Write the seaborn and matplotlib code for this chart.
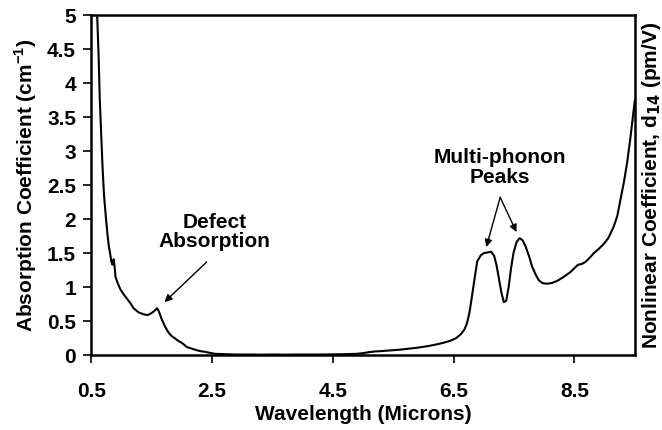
import matplotlib
matplotlib.use("Agg")
import matplotlib.pyplot as plt
import seaborn as sns
import pandas as pd

wavelength = [0.596, 0.62, 0.64, 0.665, 0.685, 0.71, 0.74, 0.77, 0.79, 0.81, 0.83, 0.85, 0.87, 0.885,
              0.90, 0.94, 0.98, 1.03, 1.09, 1.15, 1.20, 1.28, 1.37, 1.43, 1.48, 1.53, 1.59, 1.62,
              1.66, 1.72, 1.78, 1.83, 1.88, 1.94, 2.00, 2.08, 2.15, 2.22, 2.30, 2.38, 2.46, 2.55,
              2.7, 2.9, 3.1, 3.3, 3.5, 3.7, 3.9, 4.1, 4.3, 4.5, 4.7, 4.9, 5.0, 5.1, 5.2, 5.3,
              5.45, 5.6, 5.75, 5.9, 6.05, 6.2, 6.32, 6.44, 6.54, 6.62, 6.68, 6.72, 6.76, 6.80,
              6.85, 6.89, 6.95, 7.0, 7.06, 7.12, 7.17, 7.21, 7.25, 7.29, 7.33, 7.37, 7.41, 7.45,
              7.49, 7.54, 7.59, 7.64, 7.69, 7.75, 7.80, 7.86, 7.91, 7.97, 8.04, 8.12, 8.21, 8.32,
              8.43, 8.50, 8.56, 8.62, 8.68, 8.75, 8.82, 8.90, 8.98, 9.06, 9.15, 9.21, 9.26, 9.32,
              9.37, 9.42, 9.46, 9.5]
absorption = [5.0, 4.4, 3.75, 3.2, 2.77, 2.35, 2.03, 1.75, 1.6, 1.5, 1.38, 1.33, 1.41, 1.30,
              1.15, 1.05, 0.97, 0.90, 0.83, 0.76, 0.69, 0.63, 0.60, 0.59, 0.61, 0.64, 0.69, 0.64,
              0.54, 0.42, 0.33, 0.28, 0.25, 0.21, 0.18, 0.12, 0.10, 0.08, 0.06, 0.05, 0.035, 0.02,
              0.015, 0.01, 0.01, 0.008, 0.01, 0.008, 0.01, 0.01, 0.01, 0.012, 0.015, 0.02, 0.03, 0.045, 0.055, 0.06,
              0.07, 0.08, 0.095, 0.11, 0.13, 0.155, 0.18, 0.21, 0.25, 0.31, 0.38, 0.47, 0.62, 0.85,
              1.15, 1.38, 1.47, 1.50, 1.51, 1.52, 1.46, 1.32, 1.12, 0.92, 0.78, 0.80, 1.00, 1.28,
              1.50, 1.66, 1.72, 1.69, 1.60, 1.45, 1.30, 1.18, 1.10, 1.06, 1.05, 1.06, 1.09, 1.15,
              1.22, 1.28, 1.33, 1.34, 1.37, 1.43, 1.50, 1.56, 1.63, 1.72, 1.89, 2.05, 2.28, 2.55,
              2.82, 3.15, 3.45, 3.75]

x_ticks = [0.5, 2.5, 4.5, 6.5, 8.5]
y_ticks = [0, 0.5, 1, 1.5, 2, 2.5, 3, 3.5, 4, 4.5, 5]

sns.set_style("ticks")
plt.rcParams['font.family'] = ['Liberation Sans', 'DejaVu Sans']
plt.rcParams['font.weight'] = 'bold'
plt.rcParams['mathtext.default'] = 'bf'
plt.rcParams['text.color'] = 'black'
plt.rcParams['axes.labelcolor'] = 'black'
plt.rcParams['xtick.color'] = 'black'
plt.rcParams['ytick.color'] = 'black'

df = pd.DataFrame({"Wavelength": wavelength, "Absorption": absorption})

fig = plt.figure(figsize=(6.62, 4.30), dpi=100)
ax = fig.add_axes([0.138, 0.174, 0.821, 0.791])
sns.lineplot(data=df, x="Wavelength", y="Absorption", ax=ax, color="black", linewidth=1.5)

FS = 15
ax.set_xlim(0.5, 9.5)
ax.set_ylim(0, 5)
ax.set_xticks(x_ticks)
ax.set_xticklabels([f"{v:g}" for v in x_ticks], fontsize=FS, fontweight='bold')
ax.set_yticks(y_ticks)
ax.set_yticklabels([f"{v:g}" for v in y_ticks], fontsize=FS, fontweight='bold')
ax.tick_params(axis='x', direction='out', length=6, width=1.2, colors='black', pad=13)
ax.tick_params(axis='y', direction='out', length=6, width=1.2, colors='black', pad=5)
for s in ax.spines.values():
    s.set_linewidth(1.8)
    s.set_color('black')
    s.set_visible(True)

ax.set_xlabel("Wavelength (Microns)", fontsize=FS, fontweight='bold', labelpad=3)
ax.set_ylabel("Absorption Coefficient (cm$^{\\mathregular{-1}}$)", fontsize=FS, fontweight='bold', labelpad=6)

ax2 = ax.twinx()
ax2.set_yticks([])
ax2.set_ylabel("Nonlinear Coefficient, d$_{14}$ (pm/V)", fontsize=FS, fontweight='bold', labelpad=4)
for s in ax2.spines.values():
    s.set_visible(False)

arrow = dict(arrowstyle='-|>', color='black', lw=1.0, mutation_scale=11, shrinkA=0, shrinkB=0)
ax.text(2.54, 1.81, "Defect\nAbsorption", ha='center', va='center',
        fontsize=FS, fontweight='bold', linespacing=1.05)
ax.annotate("", xy=(1.71, 0.78), xytext=(2.41, 1.37), arrowprops=arrow)
ax.text(7.27, 2.76, "Multi-phonon\nPeaks", ha='center', va='center', fontsize=FS,
        fontweight='bold', linespacing=1.05)
ax.annotate("", xy=(7.04, 1.59), xytext=(7.27, 2.32), arrowprops=arrow)
ax.annotate("", xy=(7.54, 1.81), xytext=(7.27, 2.32), arrowprops=arrow)

fig.savefig("out.png", dpi=100)
